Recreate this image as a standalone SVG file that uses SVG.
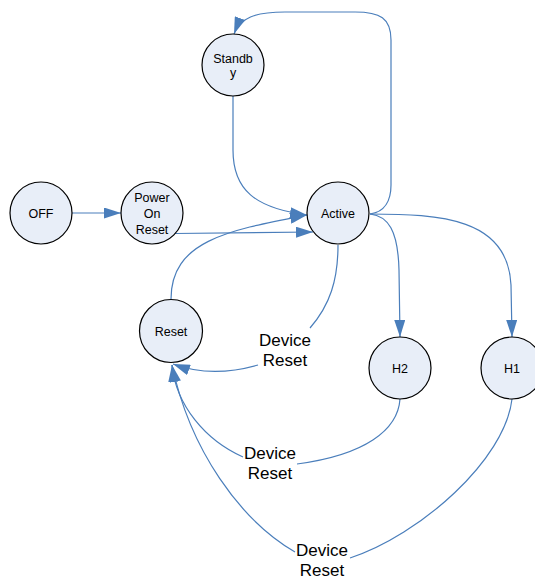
<svg xmlns="http://www.w3.org/2000/svg" width="535" height="581" viewBox="0 0 535 581">
<style>
.node circle{fill:#e8eef8;stroke:#000;stroke-width:1.2}
.node text{font-family:"Liberation Sans",Arial,sans-serif;font-size:12.5px;fill:#000;text-anchor:middle}
.edge{fill:none;stroke:#4a7ebb;stroke-width:1.2;marker-end:url(#arr)}
.lbl{font-family:"Liberation Sans",Arial,sans-serif;font-size:17px;fill:#000;text-anchor:middle}
</style>
<defs>
<marker id="arr" markerUnits="userSpaceOnUse" markerWidth="17" markerHeight="11" refX="17" refY="5.5" orient="auto">
<path d="M0,0 L17,5.5 L0,11 z" fill="#4a7ebb"/>
</marker>
</defs>
<rect width="535" height="581" fill="#fff"/>
<g id="connectors">
<path class="edge" d="M72 213 L121 213"/>
<path class="edge" d="M175 233.5 L313 232"/>
<path class="edge" d="M233 96 L233 150 C233 190 255 208 307 215"/>
<path class="edge" d="M171 299 C171 240 230 230 307 215"/>
<path class="edge" d="M370 214 C385 212 391 200 391 185 L391 40 C391 18 380 12 355 12 L285 12 C255 12 240 18 234 34"/>
<path class="edge" d="M370 214 C388 216 398 230 399 270 L400 337"/>
<path class="edge" d="M370 214 C440 214 508 218 511 285 L512 337"/>
<path class="edge" d="M338 245 C338 280 330 305 310 328 M258 365 C230 373 200 374 173 364"/>
<path class="edge" d="M400 399 C398 430 365 455 297 464 M243 457 C205 440 176 405 172 365"/>
<path class="edge" d="M512 399 C505 460 420 535 350 558 M295 552 C240 520 190 450 172 365"/>
<text class="lbl" x="285" y="345.5">Device</text>
<text class="lbl" x="285" y="365.5">Reset</text>
<text class="lbl" x="270" y="458.5">Device</text>
<text class="lbl" x="270" y="478.5">Reset</text>
<text class="lbl" x="322" y="555.5">Device</text>
<text class="lbl" x="322" y="575.5">Reset</text>
</g>
<g id="off" class="node"><circle cx="41" cy="213" r="31"/><text x="41" y="217.5">OFF</text></g>
<g id="por" class="node"><circle cx="152" cy="213" r="31"/><text x="152" y="201.5">Power</text><text x="152" y="217.5">On</text><text x="152" y="233.5">Reset</text></g>
<g id="standby" class="node"><circle cx="233" cy="65" r="31"/><text x="233" y="62.5">Standb</text><text x="233" y="77">y</text></g>
<g id="active" class="node"><circle cx="338" cy="213" r="31"/><text x="338" y="217.5">Active</text></g>
<g id="reset" class="node"><circle cx="171" cy="331" r="31.5"/><text x="171" y="335.5">Reset</text></g>
<g id="h2" class="node"><circle cx="400" cy="368" r="31"/><text x="400" y="372.5">H2</text></g>
<g id="h1" class="node"><circle cx="512" cy="368" r="31"/><text x="512" y="372.5">H1</text></g>
</svg>
